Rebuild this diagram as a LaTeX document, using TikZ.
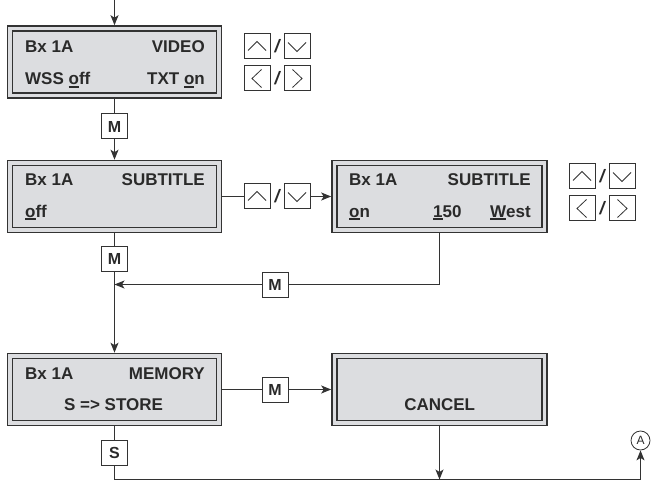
\documentclass[tikz,border=0pt]{standalone}
\usepackage{fontspec}
\setmainfont{Liberation Sans}
\usetikzlibrary{arrows.meta,calc}
\definecolor{ln}{HTML}{333333}
\definecolor{lcd}{HTML}{DCDDE0}
\definecolor{tx}{HTML}{2A2A2A}
\newcommand{\ulc}[1]{\setbox0\hbox{#1}\rlap{\rule[-2.6bp]{\wd0}{1.6bp}}\box0\relax}
\tikzset{
  lcdbox/.style={draw=ln, line width=1.6bp, fill=lcd, minimum width=214bp, minimum height=72bp, inner sep=0,
    path picture={\draw[ln,line width=1.3bp] ([shift={(5bp,-5bp)}]path picture bounding box.north west) rectangle ([shift={(-5bp,5bp)}]path picture bounding box.south east);}},
  txt/.style={font=\fontsize{17bp}{20bp}\selectfont\bfseries, text=tx, inner sep=0},
  key/.style={draw=ln, line width=1bp, fill=white, minimum width=26bp, minimum height=25bp, inner sep=0,
    font=\fontsize{16bp}{18bp}\selectfont\bfseries, text=tx},
  chev/.style={draw=ln, line width=0.8bp},
  keyup/.style={key, path picture={\draw[chev] ([shift={(-9bp,-4bp)}]path picture bounding box.center) -- ([shift={(0bp,5bp)}]path picture bounding box.center) -- ([shift={(9bp,-4bp)}]path picture bounding box.center);}},
  keydown/.style={key, path picture={\draw[chev] ([shift={(-9bp,4bp)}]path picture bounding box.center) -- ([shift={(0bp,-5bp)}]path picture bounding box.center) -- ([shift={(9bp,4bp)}]path picture bounding box.center);}},
  keyleft/.style={key, path picture={\draw[chev] ([shift={(4.5bp,9bp)}]path picture bounding box.center) -- ([shift={(-5bp,0bp)}]path picture bounding box.center) -- ([shift={(4.5bp,-9bp)}]path picture bounding box.center);}},
  keyright/.style={key, path picture={\draw[chev] ([shift={(-4.5bp,9bp)}]path picture bounding box.center) -- ([shift={(5bp,0bp)}]path picture bounding box.center) -- ([shift={(-4.5bp,-9bp)}]path picture bounding box.center);}},
  slash/.style={font=\fontsize{18bp}{20bp}\selectfont\bfseries\itshape, text=tx, inner sep=0},
  conn/.style={draw=ln, line width=1bp},
  arr/.style={conn, -{Stealth[length=10bp,width=8bp,inset=2.5bp]}},
}
\begin{document}
\begin{tikzpicture}[x=1bp,y=-1bp]
\useasboundingbox (0,0) rectangle (651,481);
% LCD boxes
\node[lcdbox] (b1) at (114.5,62) {};
\node[lcdbox] (b2) at (114.5,196.5) {};
\node[lcdbox, minimum width=215bp] (b3) at (439.5,196.5) {};
\node[lcdbox] (b4) at (114.5,389.5) {};
\node[lcdbox, minimum width=215bp] (b5) at (439.5,389.5) {};
% texts
\node[txt,anchor=base west] (t1a) at (25,53) {Bx 1A};
\node[txt,anchor=base east] (t1b) at (205,53) {VIDEO};
\node[txt,anchor=base west] (t1c) at (25,85) {WSS \ulc{o}ff};
\node[txt,anchor=base east] (t1d) at (205,85) {TXT \ulc{o}n};
\node[txt,anchor=base west] (t2a) at (25,185.4) {Bx 1A};
\node[txt,anchor=base east] (t2b) at (205,185.4) {SUBTITLE};
\node[txt,anchor=base west] (t2c) at (25,217.4) {\ulc{o}ff};
\node[txt,anchor=base west] (t3a) at (349,185.4) {Bx 1A};
\node[txt,anchor=base east] (t3b) at (531,185.4) {SUBTITLE};
\node[txt,anchor=base west] (t3c) at (349,217.4) {\ulc{o}n};
\node[txt,anchor=base west] (t3d) at (433,217.4) {\ulc{1}50};
\node[txt,anchor=base east] (t3e) at (531,217.4) {\ulc{W}est};
\node[txt,anchor=base west] (t4a) at (25,379) {Bx 1A};
\node[txt,anchor=base east] (t4b) at (205,379) {MEMORY};
\node[txt,anchor=base] (t4c) at (113.5,410) {S => STORE};
\node[txt,anchor=base] (t5a) at (439.7,410) {CANCEL};
% key groups
\node[keyup] (k1u) at (257,46.5) {};
\node[slash] (s1a) at (277,46.5) {/};
\node[keydown] (k1d) at (297,46.5) {};
\node[keyleft] (k1l) at (257,78.5) {};
\node[slash] (s1b) at (277,78.5) {/};
\node[keyright] (k1r) at (297,78.5) {};
\node[keyup] (k2u) at (257,196.5) {};
\node[slash] (s2) at (277,196.5) {/};
\node[keydown] (k2d) at (297,196.5) {};
\node[keyup] (k3u) at (582,176.5) {};
\node[slash] (s3a) at (602,176.5) {/};
\node[keydown] (k3d) at (622,176.5) {};
\node[keyleft] (k3l) at (582,208.5) {};
\node[slash] (s3b) at (602,208.5) {/};
\node[keyright] (k3r) at (622,208.5) {};
% buttons
\node[key] (m1) at (114.5,126.5) {M};
\node[key] (m2) at (114.5,259) {M};
\node[key] (m3) at (275,284.5) {M};
\node[key] (m4) at (275,389.5) {M};
\node[key] (sk) at (114.5,452.5) {S};
\node[circle, draw=ln, line width=0.8bp, minimum size=19bp, inner sep=0, text=tx, font=\fontsize{12bp}{14bp}\selectfont] (A) at (640.5,440.5) {A};
% coordinates
\coordinate (top) at (114.5,0);
\coordinate (j1) at (114.5,284.5);
\coordinate (bl) at (114.5,479.5);
\coordinate (br) at (640.5,479.5);
% connectors
\draw[arr] (top) -- (b1.north);
\draw[conn] (b1.south) -- (m1.north);
\draw[arr] (m1.south) -- (b2.north);
\draw[conn] (b2.east) -- (k2u.west);
\draw[arr] (k2d.east) -- (b3.west);
\draw[conn] (b2.south) -- (m2.north);
\draw[arr] (m2.south) -- (b4.north);
\draw[conn] (b3.south) |- (m3.east);
\draw[arr] (m3.west) -- (j1);
\draw[conn] (b4.east) -- (m4.west);
\draw[arr] (m4.east) -- (b5.west);
\draw[conn] (b4.south) -- (sk.north);
\draw[conn] (sk.south) -- (bl) -- (br);
\draw[arr] (br) -- (A.south);
\draw[arr] (b5.south) -- (b5.south |- bl);
\end{tikzpicture}
\end{document}
